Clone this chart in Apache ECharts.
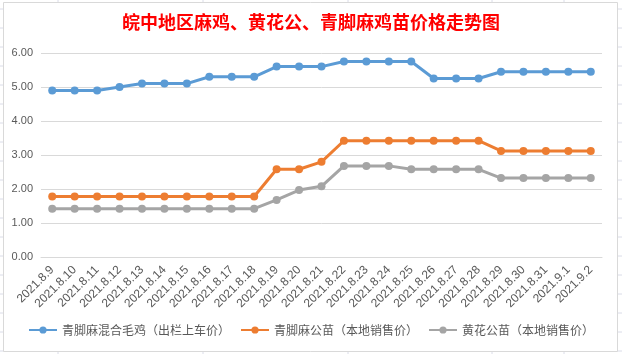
<!DOCTYPE html>
<html>
<head>
<meta charset="utf-8">
<script src="https://cdn.jsdelivr.net/npm/echarts@6/dist/echarts.min.js"></script>
<style>
  html, body { margin: 0; padding: 0; background: #fff; }
  #chart { width: 622px; height: 354px; }
</style>
</head>
<body>
<div id="chart"></div>
<script>
// 日期
const categories = [
  '2021.8.9', '2021.8.10', '2021.8.11', '2021.8.12', '2021.8.13', '2021.8.14', '2021.8.15',
  '2021.8.16', '2021.8.17', '2021.8.18', '2021.8.19', '2021.8.20', '2021.8.21', '2021.8.22',
  '2021.8.23', '2021.8.24', '2021.8.25', '2021.8.26', '2021.8.27', '2021.8.28', '2021.8.29',
  '2021.8.30', '2021.8.31', '2021.9.1', '2021.9.2'
];

const seriesNames = ['青脚麻混合毛鸡（出栏上车价）', '青脚麻公苗（本地销售价）', '黄花公苗（本地销售价）'];

const maojiPrice = [4.9, 4.9, 4.9, 5.0, 5.1, 5.1, 5.1, 5.3, 5.3, 5.3, 5.6, 5.6, 5.6,
  5.75, 5.75, 5.75, 5.75, 5.25, 5.25, 5.25, 5.45, 5.45, 5.45, 5.45, 5.45];
const qingjiaoPrice = [1.78, 1.78, 1.78, 1.78, 1.78, 1.78, 1.78, 1.78, 1.78, 1.78, 2.58, 2.58, 2.8,
  3.42, 3.42, 3.42, 3.42, 3.42, 3.42, 3.42, 3.12, 3.12, 3.12, 3.12, 3.12];
const huanghuaPrice = [1.42, 1.42, 1.42, 1.42, 1.42, 1.42, 1.42, 1.42, 1.42, 1.42, 1.68, 1.97, 2.08,
  2.68, 2.68, 2.68, 2.58, 2.58, 2.58, 2.58, 2.32, 2.32, 2.32, 2.32, 2.32];

const yTicks = [0, 1, 2, 3, 4, 5, 6];

const colors = ['#5B9BD5', '#ED7D31', '#A5A5A5'];

// 表格背景线
const sheetLines = [];
for (let y = 9; y < 354; y += 19) {
  sheetLines.push({ type: 'line', shape: { x1: 0, y1: y, x2: 622, y2: y }, style: { stroke: '#dadce8', lineWidth: 1 }, z: -10 });
}
[58, 203, 348, 492, 564].forEach(x => {
  sheetLines.push({ type: 'line', shape: { x1: x, y1: 0, x2: x, y2: 354 }, style: { stroke: '#dadce8', lineWidth: 1 }, z: -10 });
});

const chart = echarts.init(document.getElementById('chart'));

const makeSeries = (name, data, color) => ({
  name: name,
  type: 'line',
  data: data,
  symbol: 'circle',
  symbolSize: 8,
  lineStyle: { width: 3, color: color },
  itemStyle: { color: color },
  emphasis: { disabled: true }
});

const option = {
  animation: false,
  backgroundColor: '#fff',
  color: colors,
  graphic: sheetLines.concat([
    {
      type: 'rect',
      shape: { x: 3.5, y: 2.5, width: 614, height: 349 },
      style: { fill: '#fff', stroke: '#d9d9d9', lineWidth: 1 },
      z: -5
    }
  ]),
  title: {
    text: '皖中地区麻鸡、黄花公、青脚麻鸡苗价格走势图',
    left: 'center',
    top: 8,
    textStyle: {
      color: '#ff0000',
      fontSize: 18,
      fontWeight: 'bold',
      fontFamily: 'Noto Sans CJK SC'
    }
  },
  grid: {
    left: 41,
    right: 20,
    top: 53,
    bottom: 97,
    containLabel: false
  },
  legend: {
    bottom: 13,
    left: 'center',
    itemWidth: 28,
    itemHeight: 9,
    itemGap: 10,
    textStyle: { color: '#595959', fontSize: 12, fontFamily: 'Noto Sans CJK SC' },
    data: seriesNames
  },
  xAxis: {
    type: 'category',
    data: categories,
    boundaryGap: true,
    axisLine: { show: true, lineStyle: { color: '#d9d9d9' } },
    axisTick: { show: false },
    axisLabel: {
      rotate: 45,
      interval: 0,
      margin: 11,
      color: '#595959',
      fontSize: 12,
      fontFamily: 'Liberation Sans'
    }
  },
  yAxis: {
    type: 'value',
    min: yTicks[0],
    max: yTicks[yTicks.length - 1],
    interval: 1,
    axisLine: { show: false },
    axisTick: { show: false },
    axisLabel: {
      color: '#595959',
      fontSize: 11,
      margin: 8,
      fontFamily: 'Liberation Sans',
      formatter: v => v.toFixed(2)
    },
    splitLine: { lineStyle: { color: '#d9d9d9' } }
  },
  series: [
    makeSeries(seriesNames[0], maojiPrice, colors[0]),
    makeSeries(seriesNames[1], qingjiaoPrice, colors[1]),
    makeSeries(seriesNames[2], huanghuaPrice, colors[2])
  ]
};

chart.setOption(option);
</script>
</body>
</html>
